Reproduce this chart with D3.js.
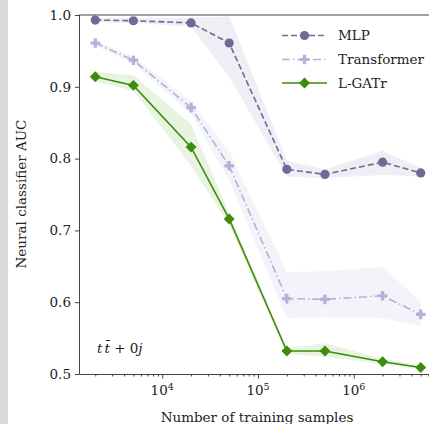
<!DOCTYPE html>
<html>
<head>
<meta charset="utf-8">
<script src="https://cdn.jsdelivr.net/npm/d3@7"></script>
<style>
  body { margin: 0; background: #fff; }
  text { font-family: "DejaVu Serif", serif; fill: #222; }
</style>
</head>
<body>
<svg id="chart" width="429" height="424"></svg>
<script>
// training set sizes
var samples = [2e3, 5e3, 2e4, 5e4, 2e5, 5e5, 2e6, 5e6];

var mlpAuc = [0.993, 0.992, 0.989, 0.961, 0.785, 0.778, 0.795, 0.780];
var mlpLo  = [0.990, 0.989, 0.984, 0.914, 0.775, 0.773, 0.777, 0.775];
var mlpHi  = [0.996, 0.995, 0.996, 0.998, 0.797, 0.785, 0.811, 0.787];

var trAuc = [0.961, 0.937, 0.871, 0.790, 0.605, 0.604, 0.609, 0.583];
var trLo  = [0.957, 0.932, 0.862, 0.770, 0.578, 0.579, 0.578, 0.566];
var trHi  = [0.965, 0.942, 0.880, 0.810, 0.642, 0.643, 0.649, 0.601];

var gatrAuc = [0.914, 0.902, 0.816, 0.716, 0.532, 0.532, 0.517, 0.509];
var gatrLo  = [0.907, 0.895, 0.790, 0.708, 0.528, 0.524, 0.514, 0.506];
var gatrHi  = [0.921, 0.916, 0.848, 0.724, 0.536, 0.543, 0.521, 0.512];

var yTicks = [0.5, 0.6, 0.7, 0.8, 0.9, 1.0];
var xTicks = [1e4, 1e5, 1e6];
var legendNames = ["MLP", "Transformer", "L-GATr"];

var svg = d3.select("#chart");

// grey strip at the left edge of the page
svg.append("rect").attr("x", 0).attr("y", 0).attr("width", 8).attr("height", 424)
    .attr("fill", "#dadada");

var x = d3.scaleLog().domain([Math.pow(10, 3.131), Math.pow(10, 6.869)]).range([79, 437]);
var y = d3.scaleLinear().domain([0.5, 1.0]).range([374, 15]);

var series = [
    {name: legendNames[0], v: mlpAuc, lo: mlpLo, hi: mlpHi, color: "#6f6a98", band: "#efeef5", dash: "6,3", marker: "circle"},
    {name: legendNames[1], v: trAuc, lo: trLo, hi: trHi, color: "#b5b2da", band: "#f3f3fa", dash: "8,3,1.5,3", marker: "plus"},
    {name: legendNames[2], v: gatrAuc, lo: gatrLo, hi: gatrHi, color: "#3d8c0c", band: "#e8f3e1", dash: null, marker: "diamond"}
];

var area = d3.area()
    .x(function(d) { return x(d.n); })
    .y0(function(d) { return y(d.lo); })
    .y1(function(d) { return y(d.hi); });

var line = d3.line()
    .x(function(d) { return x(d.n); })
    .y(function(d) { return y(d.v); });

function rows(s) {
    return samples.map(function(n, i) { return {n: n, v: s.v[i], lo: s.lo[i], hi: s.hi[i]}; });
}

function marker(sel, s) {
    if (s.marker === "circle") {
        sel.append("circle").attr("r", 4.6).attr("fill", s.color);
    } else if (s.marker === "plus") {
        sel.append("path").attr("d", d3.symbol().type(d3.symbolCross).size(52)()).attr("fill", s.color);
    } else {
        sel.append("path").attr("d", d3.symbol().type(d3.symbolSquare).size(60)())
            .attr("transform", "rotate(45)").attr("fill", s.color);
    }
}

// bands first, then lines
series.forEach(function(s) {
    svg.append("path").datum(rows(s)).attr("d", area).attr("fill", s.band);
});

series.forEach(function(s) {
    svg.append("path").datum(rows(s)).attr("d", line)
        .attr("fill", "none").attr("stroke", s.color).attr("stroke-width", 1.6)
        .attr("stroke-dasharray", s.dash);
    svg.selectAll(null).data(rows(s)).enter().append("g")
        .attr("transform", function(d) { return "translate(" + x(d.n) + "," + y(d.v) + ")"; })
        .each(function() { marker(d3.select(this), s); });
});

// axes
var axisColor = "#444";
var yAxis = svg.append("g").attr("transform", "translate(79,0)")
    .call(d3.axisLeft(y).tickValues(yTicks).tickFormat(d3.format(".1f")).tickSize(4).tickPadding(4));
yAxis.selectAll("text").attr("font-size", 13.5).attr("font-family", "DejaVu Serif").attr("fill", "#222");

var minor = [];
[1e3, 1e4, 1e5, 1e6].forEach(function(p) {
    for (var k = 2; k <= 9; k++) minor.push(p * k);
});
minor = minor.filter(function(v) { return v > x.domain()[0] && v < x.domain()[1]; });

svg.append("g").attr("transform", "translate(0,374)")
    .call(d3.axisBottom(x).tickValues(minor).tickFormat("").tickSize(2.5).tickSizeOuter(0));
var xAxis = svg.append("g").attr("transform", "translate(0,374)")
    .call(d3.axisBottom(x).tickValues(xTicks).tickFormat("").tickSize(4.5).tickSizeOuter(0));

svg.selectAll(".domain, .tick line").attr("stroke", axisColor);
yAxis.select(".domain").attr("d", "M0.5,374V15");

// top spine
svg.append("line").attr("x1", 79).attr("x2", 437).attr("y1", 15).attr("y2", 15)
    .attr("stroke", axisColor);

xTicks.forEach(function(t) {
    var lbl = svg.append("text").attr("x", x(t)).attr("y", 395)
        .attr("text-anchor", "middle").attr("font-size", 13.5);
    lbl.append("tspan").text("10");
    lbl.append("tspan").attr("dy", -5).attr("font-size", 9.5).text(Math.round(Math.log10(t)));
});

svg.append("text").attr("x", 257).attr("y", 422).attr("text-anchor", "middle")
    .attr("font-size", 13.5).text("Number of training samples");

svg.append("text").attr("transform", "translate(26,194) rotate(-90)")
    .attr("text-anchor", "middle").attr("font-size", 13.5).text("Neural classifier AUC");

// process label
var ann = svg.append("text").attr("x", 97).attr("y", 353).attr("font-size", 13.5)
    .attr("font-style", "italic");
ann.append("tspan").text("t");
ann.append("tspan").attr("dx", 2).text("t\u0304");
ann.append("tspan").attr("font-style", "normal").text(" + 0");
ann.append("tspan").text("j");

// legend
var legend = svg.append("g");
series.forEach(function(s, i) {
    var g = legend.append("g").attr("transform", "translate(0," + [35.5, 59.5, 83][i] + ")");
    g.append("line").attr("x1", 282).attr("x2", 327).attr("stroke", s.color)
        .attr("stroke-width", 1.6).attr("stroke-dasharray", s.dash);
    var m = g.append("g").attr("transform", "translate(304.5,0)");
    marker(m, s);
    g.append("text").attr("x", 338).attr("y", 4.5).attr("font-size", 13.5).text(s.name);
});
</script>
</body>
</html>
